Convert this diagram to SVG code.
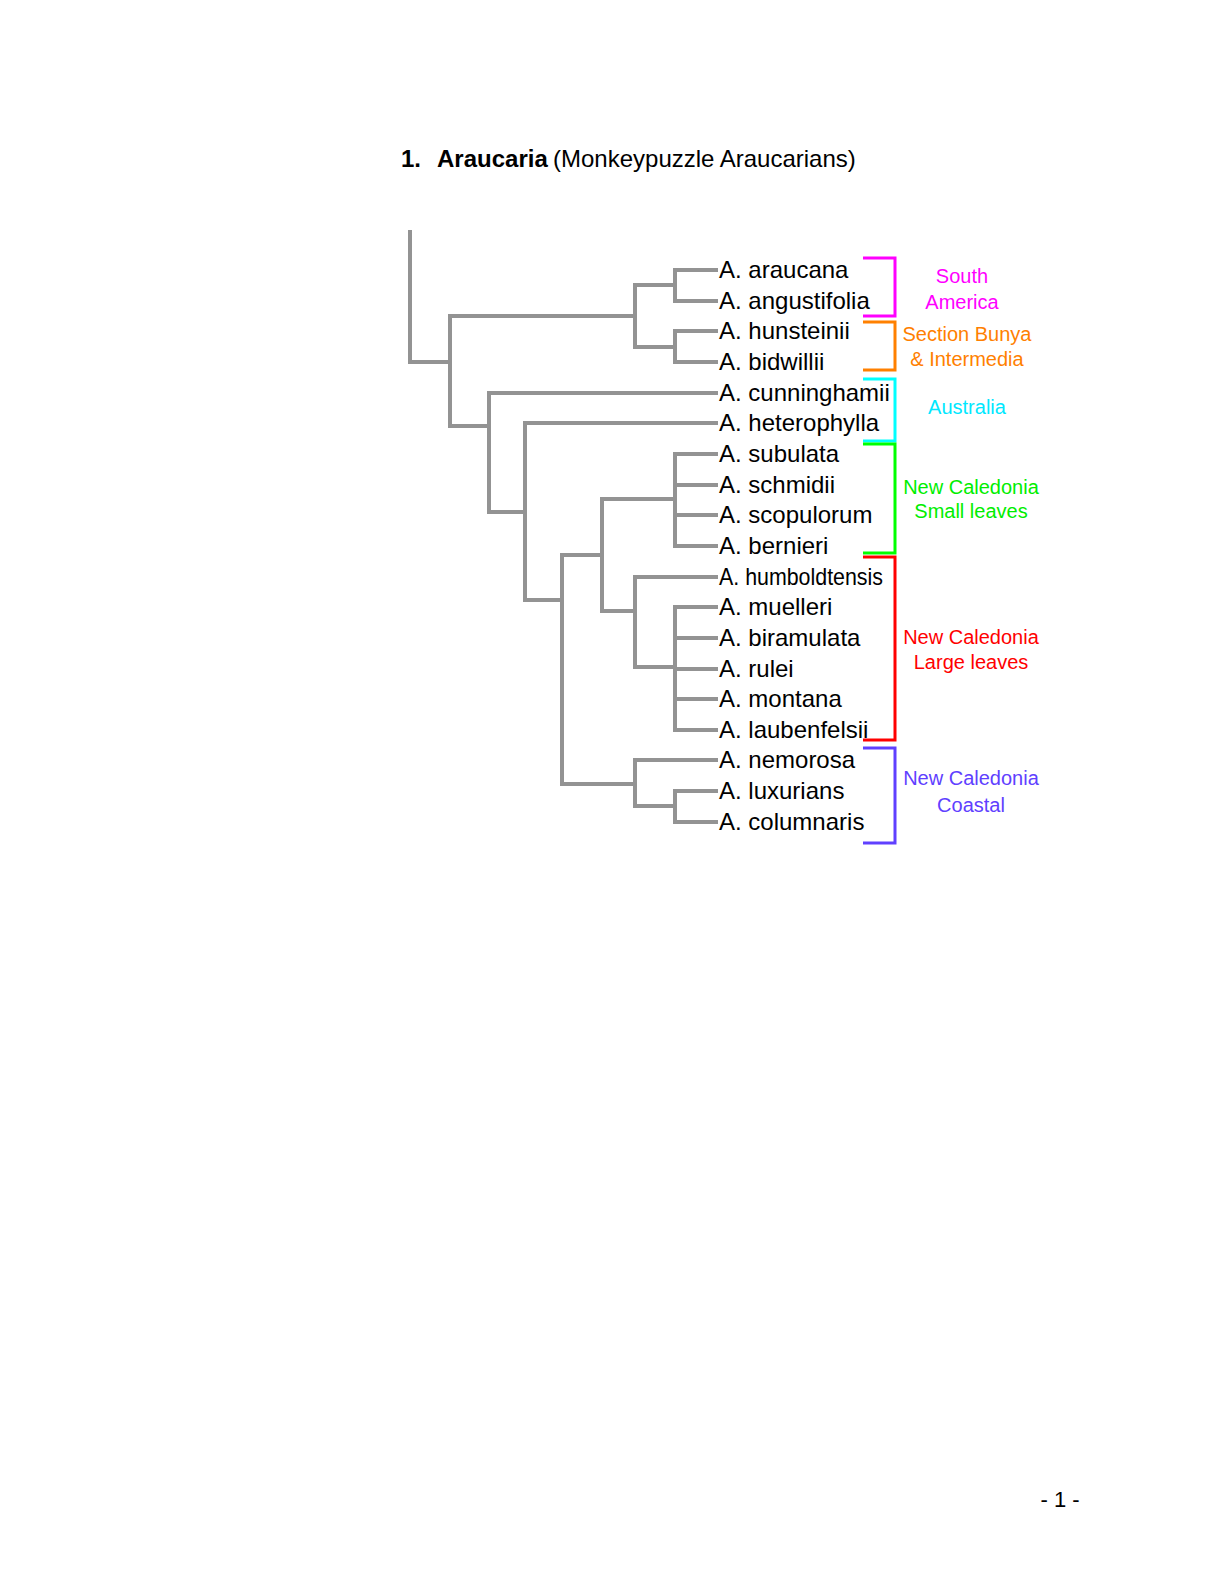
<svg xmlns="http://www.w3.org/2000/svg" width="1224" height="1584" viewBox="0 0 1224 1584">
<style>
.t{font-family:"Liberation Sans",Arial,sans-serif;fill:#000}
.sp{font-family:"Liberation Sans",Arial,sans-serif;font-size:24px;fill:#000}
.cl{font-family:"Liberation Sans",Arial,sans-serif;font-size:20px;text-anchor:middle}
.tree{fill:none;stroke:#939393;stroke-width:4;stroke-linecap:square;stroke-linejoin:miter}
.br{fill:none;stroke-width:3;stroke-linejoin:miter}
</style>
<rect width="1224" height="1584" fill="#fff"/>
<g id="title">
<text class="t" x="401" y="167" font-size="24" font-weight="bold">1.</text>
<text class="t" x="437" y="167" font-size="24" font-weight="bold">Araucaria</text>
<text class="t" x="553" y="167" font-size="24">(Monkeypuzzle Araucarians)</text>
</g>
<g id="connectors" class="tree">
<path d="M410,232 V362 H450"/>
<path d="M450,316 V426"/>
<path d="M450,316 H635"/>
<path d="M635,285 V347"/>
<path d="M635,285 H675"/>
<path d="M675,270 V301"/>
<path d="M675,270 H716 M675,301 H716"/>
<path d="M635,347 H675"/>
<path d="M675,331 V362"/>
<path d="M675,331 H716 M675,362 H716"/>
<path d="M450,426 H489"/>
<path d="M489,393 V512"/>
<path d="M489,393 H716"/>
<path d="M489,512 H525"/>
<path d="M525,423 V600"/>
<path d="M525,423 H716"/>
<path d="M525,600 H562"/>
<path d="M562,555 V784"/>
<path d="M562,555 H602"/>
<path d="M602,499 V611"/>
<path d="M602,499 H675"/>
<path d="M675,454 V546"/>
<path d="M675,454 H716 M675,485 H716 M675,515 H716 M675,546 H716"/>
<path d="M602,611 H635"/>
<path d="M635,577 V667"/>
<path d="M635,577 H716"/>
<path d="M635,667 H675"/>
<path d="M675,607 V730"/>
<path d="M675,607 H716 M675,638 H716 M675,669 H716 M675,699 H716 M675,730 H716"/>
<path d="M562,784 H635"/>
<path d="M635,760 V806"/>
<path d="M635,760 H716"/>
<path d="M635,806 H675"/>
<path d="M675,791 V822"/>
<path d="M675,791 H716 M675,822 H716"/>
</g>
<g id="species">
<text id="n-araucana" class="sp" x="719" y="278">A. araucana</text>
<text id="n-angustifolia" class="sp" x="719" y="309">A. angustifolia</text>
<text id="n-hunsteinii" class="sp" x="719" y="339">A. hunsteinii</text>
<text id="n-bidwillii" class="sp" x="719" y="370">A. bidwillii</text>
<text id="n-cunninghamii" class="sp" x="719" y="401">A. cunninghamii</text>
<text id="n-heterophylla" class="sp" x="719" y="431">A. heterophylla</text>
<text id="n-subulata" class="sp" x="719" y="462">A. subulata</text>
<text id="n-schmidii" class="sp" x="719" y="493">A. schmidii</text>
<text id="n-scopulorum" class="sp" x="719" y="523">A. scopulorum</text>
<text id="n-bernieri" class="sp" x="719" y="554">A. bernieri</text>
<text id="n-humboldtensis" class="sp" x="719" y="585" textLength="164" lengthAdjust="spacingAndGlyphs">A. humboldtensis</text>
<text id="n-muelleri" class="sp" x="719" y="615">A. muelleri</text>
<text id="n-biramulata" class="sp" x="719" y="646">A. biramulata</text>
<text id="n-rulei" class="sp" x="719" y="677">A. rulei</text>
<text id="n-montana" class="sp" x="719" y="707">A. montana</text>
<text id="n-laubenfelsii" class="sp" x="719" y="738">A. laubenfelsii</text>
<text id="n-nemorosa" class="sp" x="719" y="768">A. nemorosa</text>
<text id="n-luxurians" class="sp" x="719" y="799">A. luxurians</text>
<text id="n-columnaris" class="sp" x="719" y="830">A. columnaris</text>
</g>
<g id="clade-south-america">
<path class="br" stroke="#ff00ff" d="M863,258 H895 V316 H863"/>
<text class="cl" fill="#ff00ff" x="962" y="283">South</text>
<text class="cl" fill="#ff00ff" x="962" y="309">America</text>
</g>
<g id="clade-bunya">
<path class="br" stroke="#ff8000" d="M863,322 H895 V370 H863"/>
<text class="cl" fill="#ff8000" x="967" y="341">Section Bunya</text>
<text class="cl" fill="#ff8000" x="967" y="366">&amp; Intermedia</text>
</g>
<g id="clade-australia">
<path class="br" stroke="#00ffff" d="M863,379 H895 V441 H863"/>
<text class="cl" fill="#00e8ff" x="967" y="414">Australia</text>
</g>
<g id="clade-nc-small">
<path class="br" stroke="#00ff00" d="M863,444 H895 V553 H863"/>
<text class="cl" fill="#00ee00" x="971" y="494">New Caledonia</text>
<text class="cl" fill="#00ee00" x="971" y="518">Small leaves</text>
</g>
<g id="clade-nc-large">
<path class="br" stroke="#ff0000" d="M863,557 H895 V740 H863"/>
<text class="cl" fill="#ff0000" x="971" y="644">New Caledonia</text>
<text class="cl" fill="#ff0000" x="971" y="669">Large leaves</text>
</g>
<g id="clade-nc-coastal">
<path class="br" stroke="#6040ff" d="M863,748 H895 V843 H863"/>
<text class="cl" fill="#6040ff" x="971" y="785">New Caledonia</text>
<text class="cl" fill="#6040ff" x="971" y="812">Coastal</text>
</g>
<g id="page-number">
<text class="t" x="1060" y="1507" font-size="22" text-anchor="middle">- 1 -</text>
</g>
</svg>
